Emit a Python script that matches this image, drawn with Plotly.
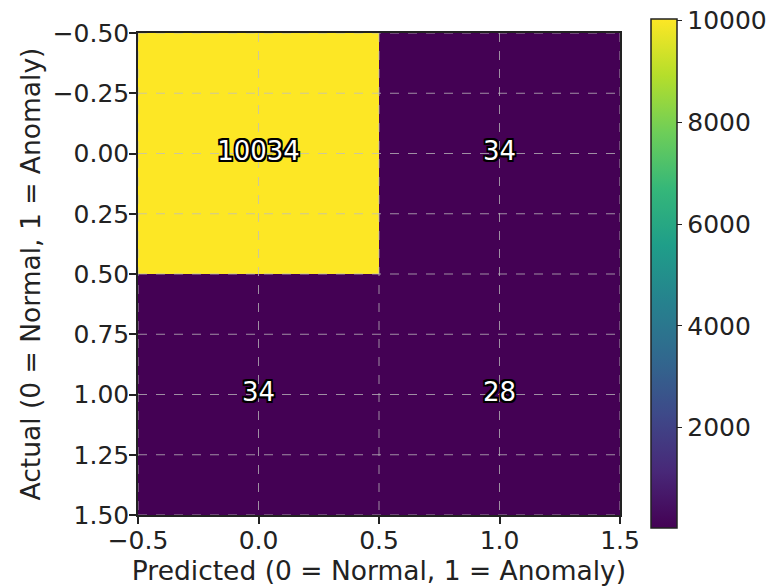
import plotly.graph_objects as go

# Data
pred_labels = [0, 1]
actual_labels = [0, 1]
counts = [[10034, 34], [34, 28]]
x_ticks = [-0.5, 0.0, 0.5, 1.0, 1.5]
y_ticks = [-0.5, -0.25, 0.0, 0.25, 0.5, 0.75, 1.0, 1.25, 1.5]
cbar_ticks = [2000, 4000, 6000, 8000, 10000]
cbar_ticktext = ["2000", "4000", "6000", "8000", "10000"]

FONT = "DejaVu Sans"
TICK_SIZE = 25
TITLE_SIZE = 26.5
zmin = min(min(r) for r in counts)
zmax = max(max(r) for r in counts)

fig = go.Figure()
fig.add_trace(go.Heatmap(
    z=counts, x=pred_labels, y=actual_labels,
    colorscale="Viridis", zmin=zmin, zmax=zmax,
    colorbar=dict(
        x=(651 - 138) / 482, xanchor="left", xpad=0, ypad=0,
        y=(515 - 273.5) / 482, yanchor="middle",
        len=509 / 482, lenmode="fraction", thickness=26,
        outlinewidth=1.5, outlinecolor="#222",
        tickvals=cbar_ticks, ticktext=cbar_ticktext,
        ticks="outside", ticklen=5, tickcolor="#222",
        tickfont=dict(family=FONT, size=TICK_SIZE, color="#222"),
    ),
    hoverinfo="skip",
))

# dashed grid drawn above the heatmap
grid_color = "rgba(190,190,190,0.75)"
for xv in x_ticks:
    fig.add_trace(go.Scatter(x=[xv, xv], y=[y_ticks[0], y_ticks[-1]], mode="lines",
                             line=dict(color=grid_color, width=1, dash="dash"),
                             showlegend=False, hoverinfo="skip"))
for yv in y_ticks:
    fig.add_trace(go.Scatter(x=[x_ticks[0], x_ticks[-1]], y=[yv, yv], mode="lines",
                             line=dict(color=grid_color, width=1, dash="dash"),
                             showlegend=False, hoverinfo="skip"))

tx, ty, tt = [], [], []
for i, a in enumerate(actual_labels):
    for j, p in enumerate(pred_labels):
        tx.append(p); ty.append(a); tt.append(str(counts[i][j]))
o = "1.8px"
shadow = ", ".join(f"{dx} {dy} 0 #000" for dx, dy in [
    (f"-{o}", f"-{o}"), (o, f"-{o}"), (f"-{o}", o), (o, o),
    ("0", o), ("0", f"-{o}"), (o, "0"), (f"-{o}", "0")])
fig.add_trace(go.Scatter(
    x=tx, y=ty, text=tt, mode="text",
    textfont=dict(family=FONT, size=26, color="white", shadow=shadow),
    showlegend=False, hoverinfo="skip"))

axis_common = dict(
    showgrid=False, zeroline=False, showline=True, linecolor="#222", linewidth=1.5,
    mirror=True, ticks="outside", ticklen=7, tickwidth=1.5, tickcolor="#222",
    tickfont=dict(family=FONT, size=TICK_SIZE, color="#222"), automargin=False,
)
fig.update_layout(
    width=775, height=587,
    margin=dict(l=138, r=155, t=33, b=72, autoexpand=False),
    paper_bgcolor="white", plot_bgcolor="white",
    showlegend=False,
    xaxis=dict(range=[x_ticks[0], x_ticks[-1]], tickvals=x_ticks, tickformat=".1f",
               ticklabelstandoff=-5,
               title=dict(text="Predicted (0 = Normal, 1 = Anomaly)", standoff=4,
                          font=dict(family=FONT, size=TITLE_SIZE, color="#222")),
               **axis_common),
    yaxis=dict(range=[y_ticks[-1], y_ticks[0]], tickvals=y_ticks, tickformat=".2f",
               ticklabelstandoff=-5,
               title=dict(text="Actual (0 = Normal, 1 = Anomaly)", standoff=4,
                          font=dict(family=FONT, size=TITLE_SIZE, color="#222")),
               **axis_common),
)
fig.write_html("out.html", config={"displayModeBar": False},
               post_script="document.body.style.margin='0';document.body.style.padding='0';")
